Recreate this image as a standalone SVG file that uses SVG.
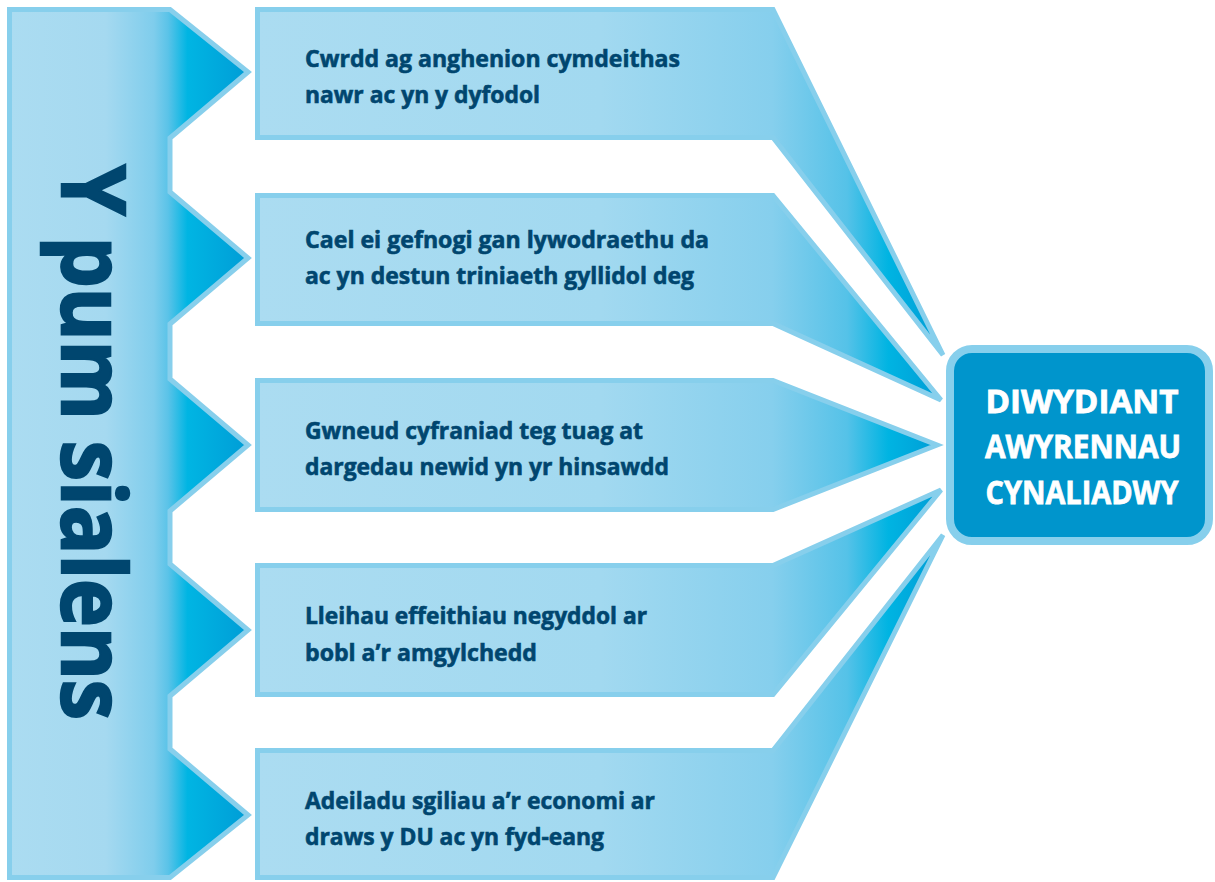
<svg xmlns="http://www.w3.org/2000/svg" width="1215" height="882" viewBox="0 0 1215 882">
<defs>
<linearGradient id="gBar" gradientUnits="userSpaceOnUse" x1="9.5" y1="0" x2="250" y2="0">
<stop offset="0" stop-color="#abdcf1"/>
<stop offset="0.4" stop-color="#a5d9f0"/>
<stop offset="0.6" stop-color="#7fcdec"/>
<stop offset="0.66" stop-color="#5ac3e8"/>
<stop offset="0.74" stop-color="#00b5e3"/>
<stop offset="1" stop-color="#009cd6"/>
</linearGradient>
<linearGradient id="gBox" gradientUnits="userSpaceOnUse" x1="258" y1="0" x2="943" y2="0">
<stop offset="0" stop-color="#abdcf1"/>
<stop offset="0.5" stop-color="#a2d9f0"/>
<stop offset="0.75" stop-color="#86cfed"/>
<stop offset="0.86" stop-color="#55c2e8"/>
<stop offset="0.92" stop-color="#00b4e2"/>
<stop offset="1" stop-color="#009bd5"/>
</linearGradient>
</defs>
<style>
.bar{fill:url(#gBar);stroke:#87cfec;stroke-width:5;stroke-linejoin:miter}
.box{fill:url(#gBox);stroke:#87cfec;stroke-width:5;stroke-linejoin:miter}
.t{font-family:"Open Sans","Liberation Sans",sans-serif;font-weight:bold;font-size:23px;fill:#00466f;stroke:#00466f;stroke-width:0.6}
.v{font-family:"Open Sans","Liberation Sans",sans-serif;font-weight:bold;font-size:88px;fill:#00466f;stroke:#00466f;stroke-width:2.5}
.w{font-family:"Open Sans","Liberation Sans",sans-serif;font-weight:bold;font-size:32px;fill:#ffffff;stroke:#ffffff;stroke-width:0.8;text-anchor:middle}
</style>
<g id="connectors">
<path id="c1" class="box" d="M257.5,9.5 H773 L943,355 L773,137.5 H257.5 Z"/>
<path id="c2" class="box" d="M257.5,195.5 H773 L941,400 L773,323.5 H257.5 Z"/>
<path id="c3" class="box" d="M257.5,380.5 H773 L937,445 L773,509.5 H257.5 Z"/>
<path id="c4" class="box" d="M257.5,565.5 H773 L941,490 L773,694.5 H257.5 Z"/>
<path id="c5" class="box" d="M257.5,750.5 H773 L943,535 L773,877.5 H257.5 Z"/>
</g>
<g id="challenges">
<path class="bar" d="M9.5,9.5 H170 L248,72 L170,138 V192 L248,258 L170,324 V379 L248,445 L170,511 V564 L248,630 L170,696 V749 L248,815 L170,877.5 H9.5 Z"/>
<text class="v" transform="translate(62,165) rotate(90)" textLength="555" lengthAdjust="spacingAndGlyphs">Y pum sialens</text>
</g>
<g id="n1">
<text class="t" x="305" y="67" textLength="375" lengthAdjust="spacingAndGlyphs">Cwrdd ag anghenion cymdeithas</text>
<text class="t" x="305" y="103" textLength="235" lengthAdjust="spacingAndGlyphs">nawr ac yn y dyfodol</text>
</g>
<g id="n2">
<text class="t" x="305" y="248" textLength="404" lengthAdjust="spacingAndGlyphs">Cael ei gefnogi gan lywodraethu da</text>
<text class="t" x="305" y="284" textLength="389" lengthAdjust="spacingAndGlyphs">ac yn destun triniaeth gyllidol deg</text>
</g>
<g id="n3">
<text class="t" x="305" y="439" textLength="338" lengthAdjust="spacingAndGlyphs">Gwneud cyfraniad teg tuag at</text>
<text class="t" x="305" y="475" textLength="364" lengthAdjust="spacingAndGlyphs">dargedau newid yn yr hinsawdd</text>
</g>
<g id="n4">
<text class="t" x="305" y="624" textLength="342" lengthAdjust="spacingAndGlyphs">Lleihau effeithiau negyddol ar</text>
<text class="t" x="305" y="661" textLength="232" lengthAdjust="spacingAndGlyphs">bobl a’r amgylchedd</text>
</g>
<g id="n5">
<text class="t" x="305" y="809" textLength="350" lengthAdjust="spacingAndGlyphs">Adeiladu sgiliau a’r economi ar</text>
<text class="t" x="305" y="845" textLength="299" lengthAdjust="spacingAndGlyphs">draws y DU ac yn fyd-eang</text>
</g>
<g id="target">
<rect x="950" y="349" width="259" height="192" rx="22" ry="22" fill="#0095cc" stroke="#87cfec" stroke-width="8"/>
<text class="w" x="1082" y="413" textLength="193" lengthAdjust="spacingAndGlyphs">DIWYDIANT</text>
<text class="w" x="1083" y="458" textLength="196" lengthAdjust="spacingAndGlyphs">AWYRENNAU</text>
<text class="w" x="1082" y="504" textLength="193" lengthAdjust="spacingAndGlyphs">CYNALIADWY</text>
</g>
</svg>
